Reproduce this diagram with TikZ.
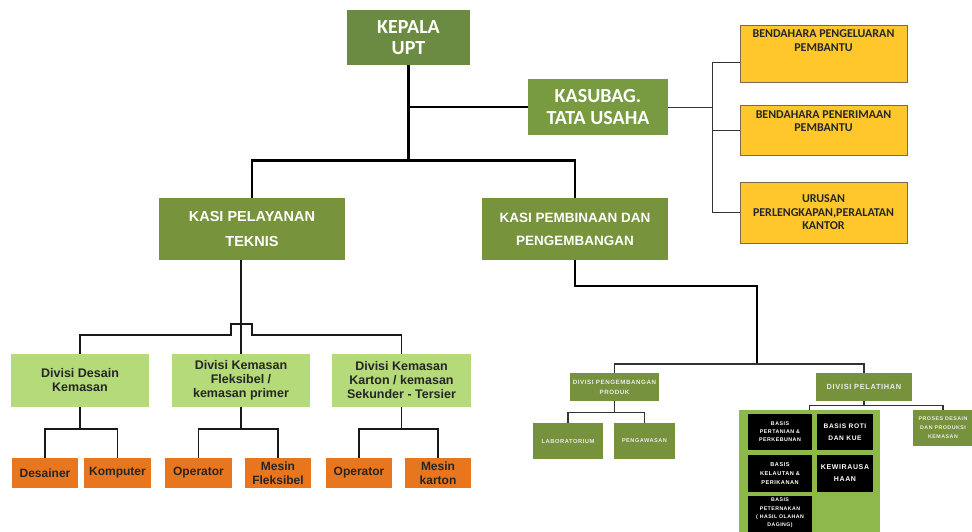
\documentclass[tikz,border=0pt]{standalone}
\usepackage{fontspec}
\setmainfont{Liberation Sans}
\newfontfamily\calfont{Carlito}
\newfontfamily\widefont[LetterSpace=9]{Liberation Sans}
\usetikzlibrary{calc}

\definecolor{olivedk}{RGB}{108,139,66}
\definecolor{olivemd}{RGB}{120,155,66}
\definecolor{olivekasi}{RGB}{119,147,60}
\definecolor{lightgreen}{RGB}{181,218,122}
\definecolor{orangebox}{RGB}{232,118,30}
\definecolor{yellowbox}{RGB}{255,199,44}
\definecolor{yellowedge}{RGB}{120,106,80}
\definecolor{panelgreen}{RGB}{141,184,74}
\definecolor{smallolive}{RGB}{118,146,60}

\tikzset{
  every node/.style={inner sep=0pt, align=center},
  topbox/.style={fill=olivedk, text=white},
  subbox/.style={fill=olivemd, text=white},
  kasibox/.style={fill=olivekasi, text=white},
  divbox/.style={fill=lightgreen, text=black!85},
  unitbox/.style={fill=orangebox, text=black!85,
    font=\bfseries\fontsize{12}{14}\selectfont},
  treasbox/.style={fill=yellowbox, draw=yellowedge, line width=0.8pt},
  treastext/.style={text=black!85, font=\calfont\bfseries\fontsize{12}{13.5}\selectfont},
  smallbox/.style={fill=smallolive, text=white!92!black},
  darkbox/.style={fill=black, text=white},
  mainline/.style={line width=2.6pt, draw=black},
  midline/.style={line width=1.6pt, draw=black!90},
  thinline/.style={line width=1pt, draw=black!80},
}

\begin{document}
\begin{tikzpicture}[x=1pt,y=-1pt]
\clip (0,0) rectangle (972,531);
\fill[white] (0,0) rectangle (972,531);

% ---------- top level ----------
\node[topbox, minimum width=123, minimum height=55,
  font=\calfont\bfseries\fontsize{20}{21}\selectfont] (kepala) at (408.5,37.5) {KEPALA\\UPT};
\node[subbox, minimum width=140, minimum height=56,
  font=\calfont\bfseries\fontsize{20}{22}\selectfont] (kasubag) at (598,107) {KASUBAG.\\TATA USAHA};

% ---------- treasury / office units ----------
\node[treasbox, minimum width=167, minimum height=57] (bpp) at (823.5,53.5) {};
\node[treastext, anchor=north] (bpptext) at ([yshift=-5]bpp.north) {BENDAHARA PENGELUARAN\\PEMBANTU};
\node[treasbox, treastext, minimum width=167, minimum height=50] (bpn) at (823.5,130) {BENDAHARA PENERIMAAN\\PEMBANTU\\[4pt]};
\node[treasbox, treastext, minimum width=167, minimum height=61] (urusan) at (823.5,212.5) {URUSAN\\PERLENGKAPAN,PERALATAN\\KANTOR};

% ---------- section heads ----------
\node[kasibox, minimum width=186, minimum height=62,
  font=\bfseries\fontsize{14.5}{25}\selectfont] (kasi1) at (252,229) {KASI PELAYANAN\\TEKNIS};
\node[kasibox, minimum width=186, minimum height=62,
  font=\bfseries\fontsize{13.5}{23}\selectfont] (kasi2) at (575,229) {KASI PEMBINAAN DAN\\PENGEMBANGAN};

% ---------- divisions under technical services ----------
\tikzset{divfont/.style={font=\bfseries\fontsize{12.5}{14}\selectfont}}
\node[divbox, divfont, minimum width=138, minimum height=53] (div1) at (80,380.5) {Divisi Desain\\Kemasan};
\node[divbox, divfont, minimum width=138, minimum height=53] (div2) at (241,380.5) {Divisi Kemasan\\Fleksibel /\\kemasan primer};
\node[divbox, divfont, minimum width=139, minimum height=53] (div3) at (401.5,380.5) {Divisi Kemasan\\Karton / kemasan\\Sekunder - Tersier};

\node[unitbox, minimum width=66, minimum height=30] (desainer) at (45,473) {Desainer};
\node[unitbox, minimum width=67, minimum height=30] (komputer) at (117.5,473) {Komputer};
\node[unitbox, minimum width=67, minimum height=30] (operator1) at (198.5,473) {Operator};
\node[unitbox, minimum width=66, minimum height=30] (mesinflex) at (278,473) {Mesin\\Fleksibel};
\node[unitbox, minimum width=66, minimum height=30] (operator2) at (359,473) {Operator};
\node[unitbox, minimum width=66, minimum height=30] (mesinkarton) at (438,473) {Mesin\\karton};

% ---------- divisions under development ----------
\node[smallbox, minimum width=89, minimum height=28,
  font=\widefont\bfseries\fontsize{6.2}{10}\selectfont] (produk) at (614.5,387) {DIVISI PENGEMBANGAN\\PRODUK};
\node[smallbox, minimum width=96, minimum height=28,
  font=\widefont\bfseries\fontsize{7.4}{9}\selectfont] (pelatihan) at (864,387) {DIVISI PELATIHAN};
\node[smallbox, minimum width=70, minimum height=36,
  font=\widefont\bfseries\fontsize{5.8}{8}\selectfont] (lab) at (568,441) {LABORATORIUM};
\node[smallbox, minimum width=61, minimum height=36,
  font=\widefont\bfseries\fontsize{5.6}{8}\selectfont] (pengawasan) at (644.5,441) {PENGAWASAN};
\node[smallbox, minimum width=60, minimum height=36,
  font=\widefont\bfseries\fontsize{5.3}{9}\selectfont] (proses) at (943,428) {PROSES DESAIN\\DAN PRODUKSI\\KEMASAN};

% training panel with its course blocks
\node[fill=panelgreen, minimum width=141, minimum height=132] (panel) at (809.5,476) {};
\node[darkbox, minimum width=64, minimum height=36,
  font=\widefont\bfseries\fontsize{5.3}{8}\selectfont] (pertanian) at (780,432) {BASIS\\PERTANIAN \&\\PERKEBUNAN};
\node[darkbox, minimum width=56, minimum height=36,
  font=\widefont\bfseries\fontsize{6.6}{11.5}\selectfont] (roti) at (845,432) {BASIS ROTI\\DAN KUE};
\node[darkbox, minimum width=64, minimum height=37,
  font=\widefont\bfseries\fontsize{5.6}{9}\selectfont] (kelautan) at (780,473.5) {BASIS\\KELAUTAN \&\\PERIKANAN};
\node[darkbox, minimum width=56, minimum height=37,
  font=\widefont\bfseries\fontsize{7}{12}\selectfont] (kewira) at (845,473.5) {KEWIRAUSA\\HAAN};
\node[darkbox, minimum width=64, minimum height=44] (peternakan) at (780,518) {};
\node[text=white, anchor=north, font=\widefont\bfseries\fontsize{5.2}{8.4}\selectfont]
  (peternakantext) at ([yshift=-2]peternakan.north) {BASIS\\PETERNAKAN\\( HASIL OLAHAN\\DAGING)};

% ---------- connectors ----------
\draw[mainline] (kepala.south) -- ++(0,95) coordinate (hub);
\draw[mainline] (kasi1.north) |- (hub) -| (kasi2.north);
\draw[mainline] (kepala.south |- kasubag.west) -- (kasubag.west);

\draw[thinline] (kasubag.east) -- ++(44,0) coordinate (tuhub);
\draw[thinline] ([yshift=-9]bpp.west) -| (tuhub);
\draw[thinline] (urusan.west) -| (tuhub);
\draw[thinline] (bpn.west) -- (bpn.west -| tuhub);

% technical services branch
\draw[midline] (kasi1.south -| div2.north) -- (div2.north);
\coordinate (hopA) at (231,335);
\coordinate (hopB) at (252,335);
\draw[midline] (div1.north) |- (hopA) -- ++(0,-11) -| (hopB) -| (div3.north);

\draw[midline] (div1.south) -- ++(0,22) coordinate (d1hub);
\draw[midline] (desainer.north) |- (d1hub) -| (komputer.north);
\draw[midline] (div2.south) -- ++(0,22) coordinate (d2hub);
\draw[midline] (operator1.north) |- (d2hub) -| (mesinflex.north);
\draw[midline] (div3.south) -- ++(0,22) coordinate (d3hub);
\draw[midline] (operator2.north) |- (d3hub) -| (mesinkarton.north);

% development branch
\coordinate (elbow) at (757,286);
\coordinate (devhub) at (757,364);
\draw[mainline] (kasi2.south) |- (elbow) -- (devhub);
\draw[thinline, line width=1.3pt] (produk.north) |- (devhub) -| (pelatihan.north);

\draw[thinline, line width=1.3pt] (produk.south) -- ++(0,11) coordinate (phub);
\draw[thinline, line width=1.3pt] (lab.north) |- (phub) -| (pengawasan.north);

\draw[thinline, line width=1.3pt] (pelatihan.south) -- ++(0,4) coordinate (lhub);
\draw[thinline, line width=1.3pt] (panel.north) |- (lhub) -| (proses.north);
\end{tikzpicture}
\end{document}
